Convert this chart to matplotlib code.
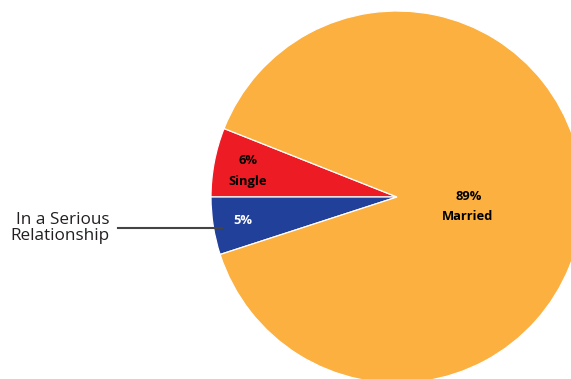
import matplotlib.pyplot as plt

labels = ['Single', 'In a Serious\nRelationship', 'Married']
values = [6, 5, 89]
colors = ['#ED1C24', '#21409A', '#FBB040']

W, H = 571, 379
cx, cy, r = 397, H - 197, 186

fig = plt.figure(figsize=(W / 100, H / 100), dpi=100)
ax = fig.add_axes([0, 0, 1, 1])

start = 180 - 360 * values[0] / sum(values)
ax.pie(values, colors=colors, center=(cx, cy), radius=r, startangle=start,
       counterclock=True, frame=True,
       wedgeprops={'edgecolor': 'white', 'linewidth': 0.9})
ax.set_xlim(0, W)
ax.set_ylim(0, H)
ax.set_aspect('equal')
ax.axis('off')

bold = {'family': 'Open Sans', 'weight': 'bold', 'fontsize': 9.3,
        'ha': 'center', 'va': 'center'}
ax.text(248, H - 160, f'{values[0]}%', color='black', **bold)
ax.text(248, H - 181, labels[0], color='black', **bold)
ax.text(243, H - 220, f'{values[1]}%', color='white', **bold)
ax.text(469, H - 196, f'{values[2]}%', color='black', **bold)
ax.text(468, H - 216, labels[2], color='black', **bold)

# callout for the small blue slice
ax.text(110, H - 228, labels[1], family='Open Sans', fontsize=12.3,
        color='#231F20', ha='right', va='center', linespacing=1.0)
ax.plot([118, 222], [H - 228, H - 228], color='#444444', lw=1.5)

fig.savefig('out.png', dpi=100)
